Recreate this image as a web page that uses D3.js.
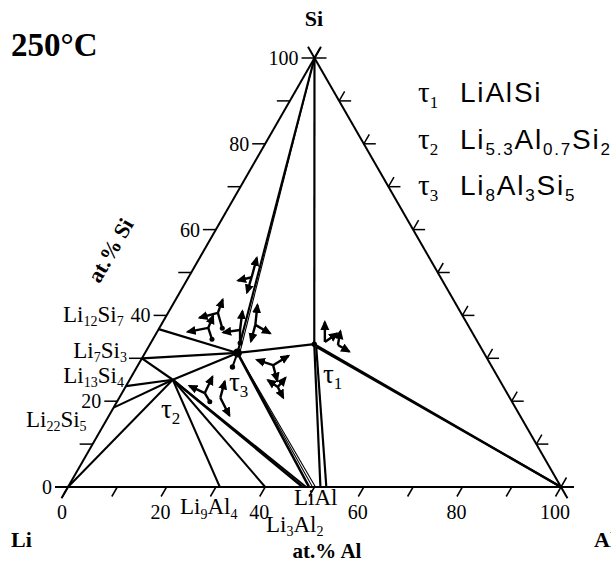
<!DOCTYPE html>
<html>
<head>
<meta charset="utf-8">
<script src="https://cdn.jsdelivr.net/npm/d3@7"></script>
<style>
  body { margin: 0; background: #fff; }
</style>
</head>
<body>
<svg id="chart" width="611" height="563"></svg>
<script>
// all compositions are [at.% Al, at.% Si]
var liSiPhases  = ["Li12Si7", "Li7Si3", "Li13Si4", "Li22Si5"]
var liSiContent = [36.8, 30, 23.5, 18.5]
var liAlPhases  = ["Li9Al4", "Li3Al2"]
var liAlContent = [30.8, 40]
// ends of the tie lines that run into the LiAl homogeneity range
var liAlEnds = [47.6, 48.3, 48.9, 49.6, 50.2, 51.2, 52.4]
var tauNames   = ["τ1", "τ2", "τ3"]
var tauFormula = ["LiAlSi", "Li5.3Al0.7Si2", "Li8Al3Si5"]
var tauAl = [33.3, 8.75, 18.75]
var tauSi = [33.3, 25, 31.25]
// second edge of the small homogeneity bands of tau1 / tau3
var bandAl = [34.0, 19.4]
var bandSi = [32.7, 30.6]

var tickValues = [0, 10, 20, 30, 40, 50, 60, 70, 80, 90, 100]
var tickLabels = [0, 20, 40, 60, 80, 100]

// tie lines: [from, to, stroke width]
var tieLines = [
  ["Si", "τ1", 2.2], ["Si", "τ3", 2.2], ["Si", "τ3'", 1.1],
  ["τ1", "Al", 2.2], ["τ1'", "Al", 2.2],
  ["τ1", "LiAl5", 2.2], ["τ1'", "LiAl6", 2.2],
  ["τ3", "τ1", 2.2],
  ["τ3", "LiAl2", 2.6], ["τ3'", "LiAl3", 1.1], ["τ3'", "LiAl4", 1.1],
  ["τ2", "τ3", 2.2],
  ["τ2", "LiAl0", 2.4], ["τ2", "LiAl1", 2.0],
  ["τ2", "Li9Al4", 2], ["τ2", "Li3Al2", 2],
  ["Li", "τ2", 2], ["Li22Si5", "τ2", 2], ["Li13Si4", "τ2", 2.2],
  ["Li7Si3", "τ2", 2.2], ["Li7Si3", "τ3", 2.2], ["Li12Si7", "τ3", 2.2]
]

// little crossed-arrow symbols: position, arrow directions (deg), lengths (px)
var arrowAt  = [[12.8, 48.9], [10.1, 40.6], [9.9, 37.1], [16.6, 36.6], [19.1, 37.8],
                [27.4, 28.4], [30.9, 23.3], [35.2, 33.8], [38.2, 33.1], [16.8, 21.9], [20.5, 20.8]]
var arrowDir = [[75, 194, 253], [70, 195], [68, 191], [83, 188], [84, 330, 255],
                [162, 31, 285], [50, 145, 297], [90, 35], [80, 330], [65, 155], [75, 297]]
var arrowLen = [[20, 14, 16], [14, 19], [13, 21], [19, 17], [20, 17, 17],
                [17, 18, 16], [12, 12, 12], [20, 15], [14, 13], [18, 17], [17, 20]]
var stemDir  = [null, 286, 288, 270, null, null, null, null, null, 300, null]
var stemLen  = [0, 16, 12, 13, 0, 0, 0, 0, 0, 10, 0]

var svg = d3.select("#chart")
var serif = "'Liberation Serif', 'Times New Roman', serif"
var sans = "'Liberation Sans', Arial, sans-serif"

var xScale = d3.scaleLinear().domain([0, 100]).range([68, 561])
var yScale = d3.scaleLinear().domain([0, 100]).range([487, 58])
function px(c) { return [xScale(c[0] + c[1] / 2), yScale(c[1])] }

// named points
var pts = { Li: [0, 0], Al: [100, 0], Si: [0, 100] }
liSiPhases.forEach(function(p, i) { pts[p] = [0, liSiContent[i]] })
liAlPhases.forEach(function(p, i) { pts[p] = [liAlContent[i], 0] })
liAlEnds.forEach(function(v, i) { pts["LiAl" + i] = [v, 0] })
tauNames.forEach(function(t, i) { pts[t] = [tauAl[i], tauSi[i]] })
pts["τ1'"] = [bandAl[0], bandSi[0]]
pts["τ3'"] = [bandAl[1], bandSi[1]]

var defs = svg.append("defs")
defs.append("marker")
    .attr("id", "ah")
    .attr("viewBox", "0 0 10 10")
    .attr("refX", 8).attr("refY", 5)
    .attr("markerWidth", 10).attr("markerHeight", 10)
    .attr("markerUnits", "userSpaceOnUse")
    .attr("orient", "auto")
  .append("path")
    .attr("d", "M0,0.5L10,5L0,9.5z")
    .attr("fill", "#000")

// text with numeric subscripts
function formula(sel, str, size, subSize, shift) {
  var parts = str.match(/[^0-9.]+|[0-9.]+/g)
  var down = false
  parts.forEach(function(p) {
    var isSub = /^[0-9.]/.test(p)
    var t = sel.append("tspan").text(p).attr("font-size", isSub ? subSize : size)
    if (isSub && !down) { t.attr("dy", shift); down = true }
    else if (!isSub && down) { t.attr("dy", -shift); down = false }
  })
  return sel
}

var g = svg.append("g")

// triangle edges, extended a bit past the corners
var corners = [px(pts.Li), px(pts.Al), px(pts.Si)]
var ext = 13
for (var i = 0; i < 3; i++) {
  var a = corners[i], b = corners[(i + 1) % 3]
  var dx = b[0] - a[0], dy = b[1] - a[1], L = Math.hypot(dx, dy)
  g.append("line")
    .attr("x1", a[0] - dx / L * ext).attr("y1", a[1] - dy / L * ext)
    .attr("x2", b[0] + dx / L * ext).attr("y2", b[1] + dy / L * ext)
    .attr("stroke", "#000").attr("stroke-width", 2)
}

// left ticks (at.% Si)
tickValues.forEach(function(v) {
  var p = px([0, v])
  g.append("line").attr("x1", p[0]).attr("y1", p[1]).attr("x2", p[0] - 13).attr("y2", p[1])
    .attr("stroke", "#000").attr("stroke-width", 1.5)
})
tickLabels.forEach(function(v) {
  var p = px([0, v])
  g.append("text").attr("x", p[0] - 16).attr("y", p[1] + 7)
    .attr("text-anchor", "end").attr("font-family", serif).attr("font-size", 20)
    .text(v)
})

// bottom ticks (at.% Al)
tickValues.forEach(function(v) {
  var p = px([v, 0])
  g.append("line").attr("x1", p[0]).attr("y1", p[1]).attr("x2", p[0] - 5.5).attr("y2", p[1] + 9.5)
    .attr("stroke", "#000").attr("stroke-width", 1.5)
})
tickLabels.forEach(function(v) {
  var p = px([v, 0])
  g.append("text").attr("x", p[0] - 6).attr("y", p[1] + 32)
    .attr("text-anchor", "middle").attr("font-family", serif).attr("font-size", 20)
    .text(v)
})

// right ticks
tickValues.forEach(function(v) {
  var p = px([100 - v, v])
  g.append("line").attr("x1", p[0]).attr("y1", p[1]).attr("x2", p[0] + 12).attr("y2", p[1])
    .attr("stroke", "#000").attr("stroke-width", 1.5)
  g.append("line").attr("x1", p[0]).attr("y1", p[1]).attr("x2", p[0] + 5.5).attr("y2", p[1] - 9.5)
    .attr("stroke", "#000").attr("stroke-width", 1.5)
})

// tie lines
g.selectAll("line.tie")
  .data(tieLines)
  .enter()
  .append("line")
    .attr("class", "tie")
    .attr("x1", function(d) { return px(pts[d[0]])[0] })
    .attr("y1", function(d) { return px(pts[d[0]])[1] })
    .attr("x2", function(d) { return px(pts[d[1]])[0] })
    .attr("y2", function(d) { return px(pts[d[1]])[1] })
    .attr("stroke", "#000")
    .attr("stroke-width", function(d) { return d[2] })

// junction dots
var t3 = px(pts["τ3"])
g.append("circle").attr("cx", t3[0]).attr("cy", t3[1]).attr("r", 4.5).attr("fill", "#000")
g.append("line").attr("x1", t3[0]).attr("y1", t3[1]).attr("x2", t3[0] - 5).attr("y2", t3[1] + 14)
  .attr("stroke", "#000").attr("stroke-width", 2)
g.append("circle").attr("cx", t3[0] - 5).attr("cy", t3[1] + 14).attr("r", 2.7).attr("fill", "#000")
var t1 = px(pts["τ1"])
g.append("circle").attr("cx", t1[0]).attr("cy", t1[1]).attr("r", 2.7).attr("fill", "#000")

// crossed arrow symbols
arrowAt.forEach(function(c, i) {
  var p = px(c)
  arrowDir[i].forEach(function(ang, j) {
    var r = ang * Math.PI / 180, len = arrowLen[i][j]
    g.append("line")
      .attr("x1", p[0]).attr("y1", p[1])
      .attr("x2", p[0] + Math.cos(r) * len).attr("y2", p[1] - Math.sin(r) * len)
      .attr("stroke", "#000").attr("stroke-width", 2.4)
      .attr("marker-end", "url(#ah)")
  })
  if (stemDir[i] != null) {
    var r = stemDir[i] * Math.PI / 180
    var ex = p[0] + Math.cos(r) * stemLen[i], ey = p[1] - Math.sin(r) * stemLen[i]
    g.append("line").attr("x1", p[0]).attr("y1", p[1]).attr("x2", ex).attr("y2", ey)
      .attr("stroke", "#000").attr("stroke-width", 2.4)
    g.append("circle").attr("cx", ex).attr("cy", ey).attr("r", 2.5).attr("fill", "#000")
  }
})

// binary phase labels (left edge)
var liSiLabelDx = [-35, -15, -2, -27]
var liSiLabelDy = [-7, 0, -3, 19]
liSiPhases.forEach(function(p, i) {
  var q = px(pts[p])
  formula(g.append("text")
      .attr("x", q[0] + liSiLabelDx[i]).attr("y", q[1] + liSiLabelDy[i])
      .attr("text-anchor", "end").attr("font-family", serif),
    p, 23, 14, 4)
})

// binary phase labels (bottom edge)
formula(g.append("text").attr("x", 180).attr("y", 514).attr("font-family", serif), "Li9Al4", 23, 14, 5)
formula(g.append("text").attr("x", 266).attr("y", 532).attr("font-family", serif), "Li3Al2", 23, 14, 4)
g.append("text").attr("x", 294).attr("y", 505).attr("font-family", serif).attr("font-size", 23).text("LiAl")

// tau labels on the diagram
var tauLabelXY = [[323, 383], [161, 418], [229, 391]]
tauNames.forEach(function(t, i) {
  formula(g.append("text").attr("x", tauLabelXY[i][0]).attr("y", tauLabelXY[i][1])
      .attr("font-family", serif), t, 27, 17, 6)
})

// legend
tauNames.forEach(function(t, i) {
  var y = 102 + i * 46.5
  formula(g.append("text").attr("x", 418).attr("y", y).attr("font-family", serif), t, 29, 17, 6)
  formula(g.append("text").attr("x", 460).attr("y", y).attr("font-family", sans)
      .attr("letter-spacing", 1.8), tauFormula[i], 28, 17, 6)
})

// titles and corner names
g.append("text").attr("x", 11).attr("y", 56).attr("font-family", serif)
  .attr("font-weight", "bold").attr("font-size", 33).text("250°C")
g.append("text").attr("x", 314).attr("y", 26).attr("text-anchor", "middle").attr("font-family", serif)
  .attr("font-weight", "bold").attr("font-size", 22).text("Si")
g.append("text").attr("x", 11).attr("y", 547).attr("font-family", serif)
  .attr("font-weight", "bold").attr("font-size", 22).text("Li")
g.append("text").attr("x", 594).attr("y", 547).attr("font-family", serif)
  .attr("font-weight", "bold").attr("font-size", 22).text("Al")
g.append("text").attr("x", 327).attr("y", 558).attr("text-anchor", "middle").attr("font-family", serif)
  .attr("font-weight", "bold").attr("font-size", 21).text("at.% Al")
g.append("text").attr("transform", "translate(117,254) rotate(-60)")
  .attr("text-anchor", "middle").attr("font-family", serif)
  .attr("font-weight", "bold").attr("font-size", 22).text("at.% Si")
</script>
</body>
</html>
